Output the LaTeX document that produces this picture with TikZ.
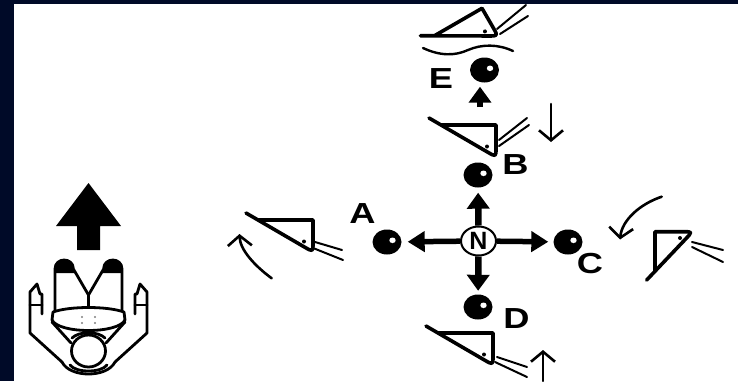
\documentclass[tikz,border=0pt]{standalone}
\usepackage{fontspec}
\setmainfont{Liberation Sans}
\usetikzlibrary{arrows.meta,shapes.geometric}
\definecolor{slidenavy}{RGB}{0,10,40}
\tikzset{
  edgeline/.style={line width=3.6pt, line join=round, line cap=round},
  strand/.style={line width=2pt, line cap=round},
  figline/.style={line width=2.8pt, line join=round, line cap=round},
  ball/.style={ellipse, fill=black, inner sep=0pt, minimum width=29pt, minimum height=25pt},
  hub/.style={ellipse, draw, line width=2pt, inner sep=0pt, minimum width=35pt, minimum height=29pt,
    font=\fontsize{25}{25}\selectfont\bfseries},
  lab/.style={inner sep=0pt, xscale=1.25, font=\fontsize{29}{29}\selectfont\bfseries},
  pushv/.style={line width=6.5pt, -{Triangle[length=16pt,width=22pt]}},
  pushh/.style={line width=5.5pt, -{Triangle[length=17pt,width=20pt]}},
  flick/.style={line width=2.6pt, line cap=round, -{Straight Barb[length=10pt,width=24pt]}},
  % kicking foot: long sole line, triangular boot with a rounded toe
  pics/wedge/.style={code={
    \draw[edgeline] (-67,-39) -- (-8.6,-5) .. controls (0,0) .. (0,-9) -- (0,-32) -- (-55,-32);
    \fill (-9,-10.5) circle (2);
  }},
  % one side of the player seen from above
  pics/halfman/.style={code={
    \fill (55,273) -- (55,269) .. controls (55,257) and (73.4,257) .. (73.4,269) -- (75.7,273) -- cycle;
    \draw[figline] (55,312) -- (55,269) .. controls (55,257) and (73.4,257) .. (73.4,269) -- (88.5,295) -- (88.5,309);
    \draw[figline] (42,314) -- (42,294) -- (40,294) -- (37,284) -- (30,292) -- (30,333) -- (62,362);
    \draw[figline] (30,305) -- (42,305);
    \draw[figline] (52,322) -- (71,343);
  }}
}
\begin{document}
\begin{tikzpicture}[x=1pt,y=-1pt]
\useasboundingbox (0,0) rectangle (738,381);
\fill[white] (0,0) rectangle (738,381);
\fill[slidenavy] (0,0) rectangle (14,381);
\fill[slidenavy] (0,0) rectangle (738,4);

% direction of play
\fill (88.5,183) -- (121,226) -- (100,226) -- (100,250) -- (77,250) -- (77,226) -- (56,226) -- cycle;

% player
\pic at (0,0) {halfman};
\pic[xscale=-1] at (177,0) {halfman};
\draw[figline, fill=white] (53,312) .. controls (70,306) and (107,306) .. (124,312) -- (125,320)
  .. controls (118,334) and (59,334) .. (52,320) -- cycle;
\foreach \px in {82,95} \foreach \py in {317,323} \fill[gray] (\px,\py) circle (1.1);
\draw[figline] (88.5,351) ellipse (17 and 16);
\draw[figline] (72,338) .. controls (79,331) and (98,331) .. (105,338);
\draw[figline] (62,362) .. controls (70,378) and (107,378) .. (115,362);
\draw[figline] (70,365) .. controls (76,373) and (101,373) .. (107,365);

% centre and balls
\node[hub] (N) at (478.5,241) {N};
\node[ball] (A) at (387,242) {};
\node[ball] (B) at (478,175) {};
\node[ball] (C) at (568,242) {};
\node[ball] (D) at (478,307) {};
\node[ball] (E) at (484.5,70) {};
\foreach \b in {A,B,C,D,E} \fill[white] ([xshift=5.5pt,yshift=1.7pt]\b.center) ellipse (3.2 and 2.8);

\node[lab] (labA) at (362.5,214) {A};
\node[lab] (labB) at (515.5,165) {B};
\node[lab] (labC) at (590,264) {C};
\node[lab] (labD) at (516.5,319) {D};
\node[lab] (labE) at (441,79) {E};

\draw[pushv, shorten >=5pt] (N) -- (B);
\draw[pushh, shorten >=6pt] (N) -- (A);
\draw[pushh, shorten >=5pt] (N) -- (C);
\draw[pushv, shorten >=3.5pt] (N) -- (D);
\coordinate (kickB) at (480,107);
\draw[pushv, shorten >=4pt] (kickB) -- (kickB |- E.south);

% feet
\pic at (313,252) {wedge};
\draw[strand] (315,242) -- (342,250) (313,248) -- (343,260);
\pic at (496,157) {wedge};
\draw[strand] (499,140) -- (527,118) (499,146) -- (529,125);
\pic at (493,365) {wedge};
\draw[strand] (497,357) -- (527,367) (495,362) -- (527,377);
\pic[rotate=30] at (498,36) {wedge};
\draw[strand] (497,29) -- (526,5) (500,34) -- (528,16);
\draw[edgeline] (646.7,280) -- (685.6,239) .. controls (692.5,231.7) .. (683.5,231.7) -- (655,231.7) -- (655,271.3);
\fill (680,238) circle (2);
\draw[strand] (692,242) -- (723,250) (692,247) -- (723,262);

% water line
\draw[line width=2.4pt, line cap=round] (423,48) .. controls (440,56) and (455,56) .. (468,50)
  .. controls (482,44) and (498,44) .. (513,51);

% movement arrows
\draw[flick] (271.7,278.3) .. controls (255,266) and (240,250) .. (239.5,234);
\draw[flick] (661.7,196.7) .. controls (640,204) and (622,220) .. (620,239.5);
\coordinate (dnTop) at (551,104);
\coordinate (dnTip) at (551,142);
\draw[flick] (dnTop) -- (dnTip);
\coordinate (upTail) at (543,381);
\coordinate (upTip) at (543,350);
\draw[flick] (upTail) -- (upTip);
\end{tikzpicture}
\end{document}
